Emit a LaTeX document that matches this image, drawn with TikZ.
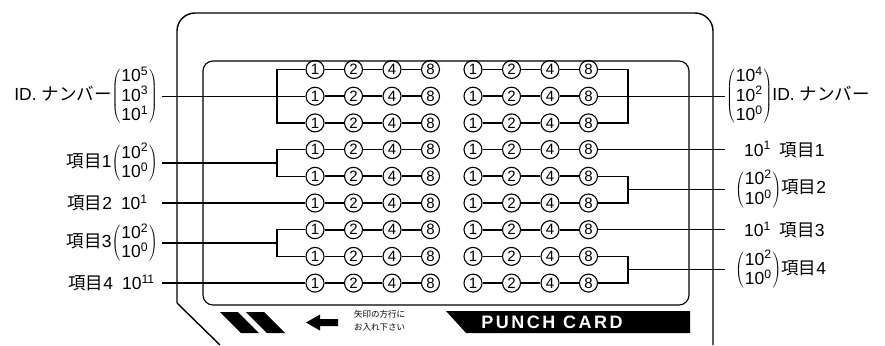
\documentclass[tikz,border=0pt]{standalone}
\usepackage{fontspec}
\setmainfont{Liberation Sans}
\newfontfamily\jpfont{Noto Sans CJK JP}
\newcommand\tn[1]{10\textsuperscript{#1}}
\newcommand\pcol[1]{$\left(\mskip1mu\vcenter{\hbox{\def\arraystretch{0.9}\begin{tabular}{@{}c@{}}#1\end{tabular}}}\mskip1mu\right)$}
\begin{document}
\begin{tikzpicture}[x=1pt,y=-1pt,
  hole/.style={draw, circle, line width=1.1pt, minimum size=18pt, inner sep=0pt, font=\fontsize{15}{15}\selectfont},
  link/.style={line width=1.7pt},
  wire/.style={line width=1.3pt},
  card/.style={line width=1.4pt},
  lab/.style={inner sep=0pt, font=\fontsize{17.5}{17.5}\selectfont},
]
\useasboundingbox (0,0) rectangle (885,345);

% card outlines
\draw[card, rounded corners=18pt] (177,303) -- (177,13) -- (713,13) -- (713,345);
\draw[card] (177,303) -- (220,345);
\draw[line width=1.1pt, rounded corners=10pt] (203,61) rectangle (689,305);

% rows of holes
\foreach \r/\yy in {1/69.5,2/96.2,3/122.9,4/149.6,5/176.3,6/203,7/229.7,8/256.4,9/283.1} {
  \foreach \c/\d in {1/1,2/2,3/4,4/8} {
    \pgfmathsetmacro\xl{315+38.5*(\c-1)}
    \pgfmathsetmacro\xr{473+38.5*(\c-1)}
    \node[hole] (l\r-\c) at (\xl,\yy) {\d};
    \node[hole] (r\r-\c) at (\xr,\yy) {\d};
  }
  \draw[link] (l\r-1) -- (l\r-2) -- (l\r-3) -- (l\r-4);
  \draw[link] (r\r-1) -- (r\r-2) -- (r\r-3) -- (r\r-4);
}

% bracket columns
\coordinate (bL) at (277,0);
\coordinate (bR) at (628,0);
\draw[wire] (l1-1) -- (l1-1 -| bL) -- (l3-1 -| bL) -- (l3-1);
\draw[wire] (l4-1) -- (l4-1 -| bL) -- (l5-1 -| bL) -- (l5-1);
\draw[wire] (l7-1) -- (l7-1 -| bL) -- (l8-1 -| bL) -- (l8-1);
\draw[wire] (r1-4) -- (r1-4 -| bR) -- (r3-4 -| bR) -- (r3-4);
\draw[wire] (r5-4) -- (r5-4 -| bR) -- (r6-4 -| bR) -- (r6-4);
\draw[wire] (r8-4) -- (r8-4 -| bR) -- (r9-4 -| bR) -- (r9-4);

% left lead lines
\coordinate (sL2) at (162,96.2);
\coordinate (sL45) at (162,162.95);
\coordinate (mL45) at (277,162.95);
\coordinate (sL6) at (162,203);
\coordinate (sL78) at (162,243.05);
\coordinate (mL78) at (277,243.05);
\coordinate (sL9) at (162,283.1);
\draw[wire] (sL2) -- (l2-1);
\draw[wire] (sL45) -- (mL45);
\draw[wire] (sL6) -- (l6-1);
\draw[wire] (sL78) -- (mL78);
\draw[wire] (sL9) -- (l9-1);

% right lead lines
\coordinate (eR2) at (725,96.2);
\coordinate (eR4) at (725,149.6);
\coordinate (mR56) at (628,189.65);
\coordinate (eR56) at (725,189.65);
\coordinate (eR7) at (725,229.7);
\coordinate (mR89) at (628,269.75);
\coordinate (eR89) at (725,269.75);
\draw[wire] (r2-4) -- (eR2);
\draw[wire] (r4-4) -- (eR4);
\draw[wire] (mR56) -- (eR56);
\draw[wire] (r7-4) -- (eR7);
\draw[wire] (mR89) -- (eR89);

% left labels
\node[lab, anchor=east] (idL) at (158,96.2) {ID. {\jpfont ナンバー}\pcol{\tn{5}\\\tn{3}\\\tn{1}}};
\node[lab, anchor=east] (k1L) at (158,162.95) {{\jpfont 項目}1\pcol{\tn{2}\\\tn{0}}};
\node[lab, anchor=east] (k2L) at (148,203) {{\jpfont 項目}2\hspace{9pt}\tn{1}};
\node[lab, anchor=east] (k3L) at (158,243.05) {{\jpfont 項目}3\pcol{\tn{2}\\\tn{0}}};
\node[lab, anchor=east] (k4L) at (155,283.1) {{\jpfont 項目}4\hspace{9pt}\tn{11}};

% right labels
\node[lab, anchor=west] (idR) at (726,96.2) {\pcol{\tn{4}\\\tn{2}\\\tn{0}}ID. {\jpfont ナンバー}};
\node[lab, anchor=west] (k1R) at (744,149.6) {\tn{1}\hspace{9pt}{\jpfont 項目}1};
\node[lab, anchor=west] (k2R) at (735,189.65) {\pcol{\tn{2}\\\tn{0}}{\jpfont 項目}2};
\node[lab, anchor=west] (k3R) at (744,229.7) {\tn{1}\hspace{9pt}{\jpfont 項目}3};
\node[lab, anchor=west] (k4R) at (735,269.75) {\pcol{\tn{2}\\\tn{0}}{\jpfont 項目}4};

% bottom strip
\fill (220,312) -- (238,312) -- (259,333) -- (241,333) -- cycle;
\fill (246,312) -- (264,312) -- (285,333) -- (267,333) -- cycle;
\fill (306,322.5) -- (320,314.5) -- (320,319) -- (338,319) -- (338,326) -- (320,326) -- (320,330.5) -- cycle;
\node[inner sep=0pt, anchor=west, align=left, font=\jpfont\fontsize{8.5}{13}\selectfont] (note) at (354,320.5) {矢印の方行に\\お入れ下さい};
\fill (446,311) -- (690,311) -- (690,333) -- (466,333) -- cycle;
\node[inner sep=0pt, text=white, font=\fontsize{18}{18}\bfseries\addfontfeature{LetterSpace=14}] (pc) at (552,322) {PUNCH CARD};
\end{tikzpicture}
\end{document}
